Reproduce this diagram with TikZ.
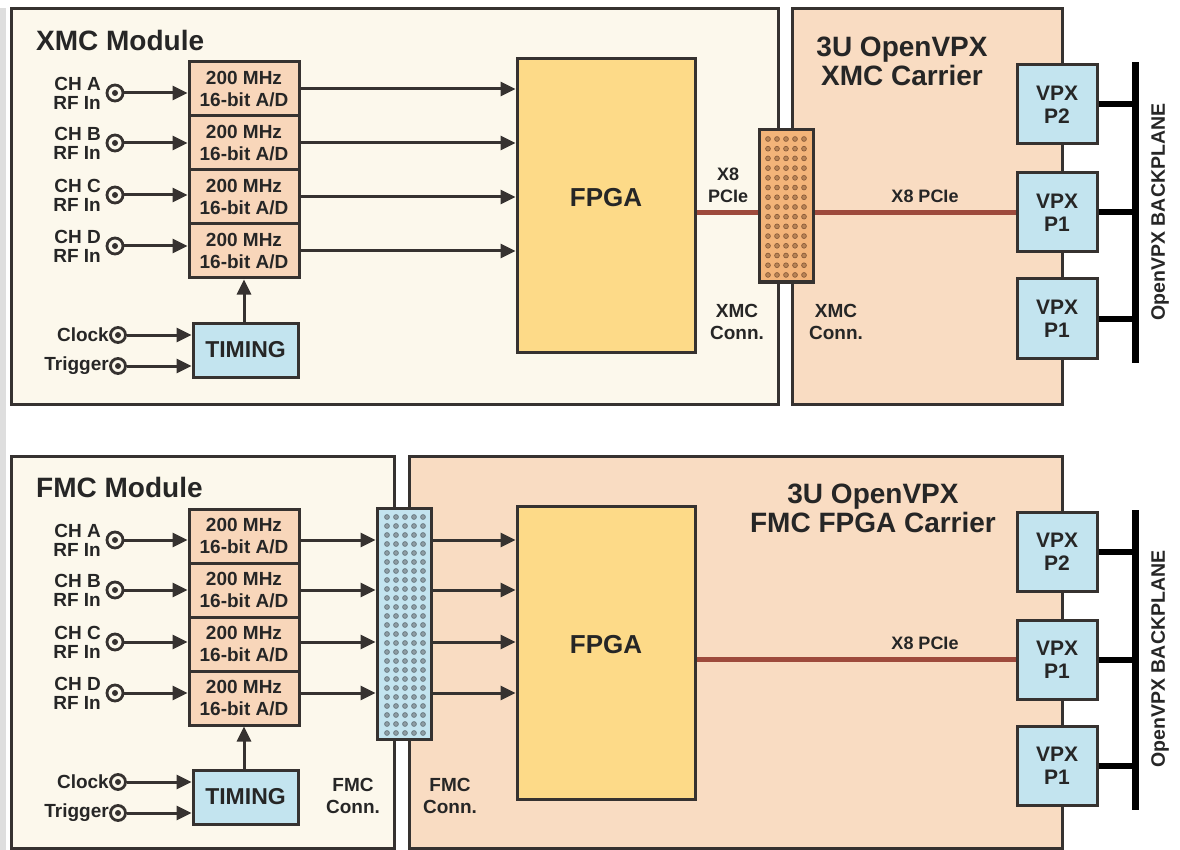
\documentclass[tikz,border=0pt]{standalone}
\usepackage{fontspec}
\setmainfont{Liberation Sans}
\usetikzlibrary{arrows.meta}
\definecolor{cream}{HTML}{FCF8EC}
\definecolor{peach}{HTML}{F9DCC2}
\definecolor{adc}{HTML}{F8D6BA}
\definecolor{fpgac}{HTML}{FDDA88}
\definecolor{lblue}{HTML}{C3E4EF}
\definecolor{conno}{HTML}{F3B479}
\definecolor{edge}{HTML}{363230}
\definecolor{pcie}{HTML}{9E4A3C}
\definecolor{txt}{HTML}{262626}
\definecolor{odot}{HTML}{B98455}
\definecolor{odotr}{HTML}{8A5C3A}
\definecolor{bdot}{HTML}{8E9EA5}
\definecolor{bdotr}{HTML}{66767D}
\definecolor{strip}{HTML}{DEDEDE}
\begin{document}
\begin{tikzpicture}[x=1pt,y=-1pt,
  box/.style={draw=edge, line width=3pt, inner sep=0pt, align=center, text=txt},
  adbox/.style={box, fill=adc, minimum width=110pt, minimum height=54pt, font=\fontsize{19}{22}\selectfont\bfseries},
  fpgabox/.style={box, fill=fpgac, minimum width=178pt, minimum height=293pt, font=\fontsize{26}{28}\selectfont\bfseries},
  timbox/.style={box, fill=lblue, minimum width=105pt, minimum height=54pt, font=\fontsize{23}{25}\selectfont\bfseries},
  vpxbox/.style={box, fill=lblue, minimum width=80pt, minimum height=79pt, font=\fontsize{21}{23}\selectfont\bfseries},
  connbox/.style={box, minimum width=54pt},
  bigtitle/.style={inner sep=0pt, text=txt, align=center, font=\fontsize{28}{29}\selectfont\bfseries},
  lbl/.style={inner sep=0pt, text=txt, align=right, font=\fontsize{19}{19}\selectfont\bfseries},
  clbl/.style={inner sep=0pt, text=txt, align=center, font=\fontsize{19}{22}\selectfont\bfseries},
  smlbl/.style={inner sep=0pt, text=txt, align=center, font=\fontsize{18}{22}\selectfont\bfseries},
  bplbl/.style={inner sep=0pt, text=txt, rotate=90, font=\fontsize{19.5}{21}\selectfont\bfseries},
  jack/.style={circle, draw=edge, line width=2.8pt, minimum size=16pt, inner sep=0pt, fill=cream,
    path picture={\fill[edge] (path picture bounding box.center) circle (3pt);}},
  arr/.style={draw=edge, line width=3pt, -{Triangle[length=15pt,width=14pt]}},
  pcieline/.style={draw=pcie, line width=4.5pt},
  bar/.style={fill=black, draw=none, inner sep=0pt, minimum width=7pt, minimum height=300pt},
  stub/.style={draw=black, line width=6pt}
]
\useasboundingbox (0,0) rectangle (1180,850);
\fill[white] (0,0) rectangle (1180,850);
\fill[strip] (0,8) rectangle (6,850);

% ================= TOP HALF =================
\node[box, fill=cream, minimum width=767pt, minimum height=395pt] (xmcmod) at (394.5,206.5) {};
\node[box, fill=peach, minimum width=270pt, minimum height=395pt] (xmccar) at (927,206.5) {};
\node[bigtitle, anchor=west] (t1) at (36,40) {XMC Module};
\node[bigtitle] (t2) at (902,61) {3U OpenVPX\\XMC Carrier};

\node[vpxbox] (vp2a) at (1057,104.5) {VPX\\P2};
\node[vpxbox] (vp1a) at (1057,212.5) {VPX\\P1};
\node[vpxbox] (vp1b) at (1057,318.5) {VPX\\P1};

\node[fpgabox] (fpga1) at (606,205.5) {\raisebox{17pt}{FPGA}};
\draw[pcieline] (fpga1.east |- vp1a.west) -- (vp1a.west);

\node[connbox, fill=conno, minimum height=152pt] (xmcc) at (786,206) {};
\foreach \i in {0,...,4}
  \foreach \j in {0,...,14}
    \filldraw[fill=odot, draw=odotr, line width=0.7pt] (768+9*\i, 139+9.71*\j) circle (2.4pt);

\node[smlbl] (x8a) at (728,185) {X8\\PCIe};
\node[smlbl] (x8b) at (925,196) {X8 PCIe};
\node[clbl] (xca) at (737,322) {XMC\\Conn.};
\node[clbl] (xcb) at (836,322) {XMC\\Conn.};

\node[bar] (bp1) at (1135,212.5) {};
\draw[stub] (vp2a.east) -- (vp2a.east -| bp1.center);
\draw[stub] (vp1a.east) -- (vp1a.east -| bp1.center);
\draw[stub] (vp1b.east) -- (vp1b.east -| bp1.center);
\node[bplbl] (bpl1) at (1160,212) {OpenVPX BACKPLANE};

\node[adbox] (ad1) at (244,89) {200 MHz\\16-bit A/D};
\node[adbox] (ad2) at (244,143) {200 MHz\\16-bit A/D};
\node[adbox] (ad3) at (244,197) {200 MHz\\16-bit A/D};
\node[adbox] (ad4) at (244,251) {200 MHz\\16-bit A/D};
\node[timbox] (tim1) at (245.5,350) {TIMING};

\node[jack] (ja1) at (115,93) {};
\node[jack] (ja2) at (115,143) {};
\node[jack] (ja3) at (115,195) {};
\node[jack] (ja4) at (115,246) {};
\node[lbl, anchor=east] (la1) at (101,93) {CH A\\RF In};
\node[lbl, anchor=east] (la2) at (101,143) {CH B\\RF In};
\node[lbl, anchor=east] (la3) at (101,195) {CH C\\RF In};
\node[lbl, anchor=east] (la4) at (101,246) {CH D\\RF In};
\foreach \k in {1,...,4} {
  \draw[arr] (ja\k.east) -- (ja\k.east -| ad\k.west);
  \draw[arr] (ad\k.east) -- (ad\k.east -| fpga1.west);
}
\node[jack, minimum size=15pt] (jc1) at (118,335) {};
\node[jack, minimum size=15pt] (jt1) at (118,366) {};
\node[lbl, anchor=east] (lc1) at (109,335) {Clock};
\node[lbl, anchor=east] (lt1) at (109,366) {Trigger};
\draw[arr] (jc1.east) -- (jc1.east -| tim1.west);
\draw[arr] (jt1.east) -- (jt1.east -| tim1.west);
\draw[arr] (tim1.north -| ad4.south) -- (ad4.south);

% ================= BOTTOM HALF =================
\node[box, fill=cream, minimum width=383pt, minimum height=392pt] (fmcmod) at (202.5,652) {};
\node[box, fill=peach, minimum width=653pt, minimum height=392pt] (fmccar) at (735.5,652) {};
\node[bigtitle, anchor=west] (t3) at (36,487) {FMC Module};
\node[bigtitle] (t4) at (873,508) {3U OpenVPX\\FMC FPGA Carrier};

\node[vpxbox] (vp2c) at (1057,551.5) {VPX\\P2};
\node[vpxbox] (vp1c) at (1057,659.5) {VPX\\P1};
\node[vpxbox] (vp1d) at (1057,765.5) {VPX\\P1};

\node[fpgabox] (fpga2) at (606,652.5) {\raisebox{17pt}{FPGA}};
\draw[pcieline] (fpga2.east |- vp1c.west) -- (vp1c.west);
\node[smlbl] (x8c) at (925,643) {X8 PCIe};

\node[connbox, fill=lblue, minimum height=231pt] (fmcc) at (404,623.5) {};
\foreach \i in {0,...,4}
  \foreach \j in {0,...,24}
    \filldraw[fill=bdot, draw=bdotr, line width=0.7pt] (387+9*\i, 517+9*\j) circle (2.4pt);

\node[clbl] (fca) at (353,796) {FMC\\Conn.};
\node[clbl] (fcb) at (450,796) {FMC\\Conn.};

\node[bar] (bp2) at (1135,659.5) {};
\draw[stub] (vp2c.east) -- (vp2c.east -| bp2.center);
\draw[stub] (vp1c.east) -- (vp1c.east -| bp2.center);
\draw[stub] (vp1d.east) -- (vp1d.east -| bp2.center);
\node[bplbl] (bpl2) at (1160,659) {OpenVPX BACKPLANE};

\node[adbox] (ae1) at (244,536) {200 MHz\\16-bit A/D};
\node[adbox] (ae2) at (244,590) {200 MHz\\16-bit A/D};
\node[adbox] (ae3) at (244,644) {200 MHz\\16-bit A/D};
\node[adbox] (ae4) at (244,698) {200 MHz\\16-bit A/D};
\node[timbox] (tim2) at (245.5,797) {TIMING};

\node[jack] (jb1) at (115,540) {};
\node[jack] (jb2) at (115,590) {};
\node[jack] (jb3) at (115,642) {};
\node[jack] (jb4) at (115,693) {};
\node[lbl, anchor=east] (lb1) at (101,540) {CH A\\RF In};
\node[lbl, anchor=east] (lb2) at (101,590) {CH B\\RF In};
\node[lbl, anchor=east] (lb3) at (101,642) {CH C\\RF In};
\node[lbl, anchor=east] (lb4) at (101,693) {CH D\\RF In};
\foreach \k in {1,...,4} {
  \draw[arr] (jb\k.east) -- (jb\k.east -| ae\k.west);
  \draw[arr] (ae\k.east |- jb\k.center) -- (fmcc.west |- jb\k.center);
  \draw[arr] (fmcc.east |- jb\k.center) -- (fpga2.west |- jb\k.center);
}
\node[jack, minimum size=15pt] (jc2) at (118,782) {};
\node[jack, minimum size=15pt] (jt2) at (118,813) {};
\node[lbl, anchor=east] (lc2) at (109,782) {Clock};
\node[lbl, anchor=east] (lt2) at (109,813) {Trigger};
\draw[arr] (jc2.east) -- (jc2.east -| tim2.west);
\draw[arr] (jt2.east) -- (jt2.east -| tim2.west);
\draw[arr] (tim2.north -| ae4.south) -- (ae4.south);
\end{tikzpicture}
\end{document}
